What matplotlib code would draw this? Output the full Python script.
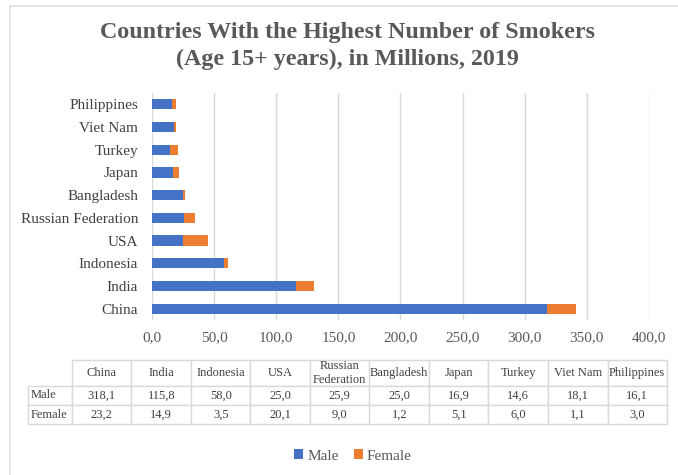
import matplotlib.pyplot as plt
from matplotlib.lines import Line2D

countries = ["China", "India", "Indonesia", "USA", "Russian Federation",
             "Bangladesh", "Japan", "Turkey", "Viet Nam", "Philippines"]
male = [318.1, 115.8, 58.0, 25.0, 25.9, 25.0, 16.9, 14.6, 18.1, 16.1]
female = [23.2, 14.9, 3.5, 20.1, 9.0, 1.2, 5.1, 6.0, 1.1, 3.0]
xticks = [0, 50, 100, 150, 200, 250, 300, 350, 400]

blue = "#4472C4"
orange = "#ED7D31"
txt = "#595959"
serif = ["Liberation Serif", "DejaVu Serif"]

plt.rcParams["font.family"] = serif

W, H = 678, 475
fig = plt.figure(figsize=(W / 100, H / 100), dpi=100)

# outer frame (left and top edges visible)
fig.add_artist(Line2D([10 / W, 10 / W], [0, 1 - 6 / H], color="#e0e0e0", lw=1.2))
fig.add_artist(Line2D([10 / W, 1], [1 - 6 / H, 1 - 6 / H], color="#e0e0e0", lw=1.2))

fig.text(347 / W, 1 - 46 / H,
         "Countries With the Highest Number of Smokers\n(Age 15+ years), in Millions, 2019",
         ha="center", va="center", fontsize=17.3, fontweight="bold", color=txt,
         linespacing=1.3)

ax = fig.add_axes([152 / W, 1 - 320 / H, 497 / W, 227 / H])
y = list(range(len(countries)))
ax.barh(y, male, height=0.45, color=blue, label="Male", zorder=3)
ax.barh(y, female, left=male, height=0.45, color=orange, label="Female", zorder=3)
ax.set_ylim(-0.5, len(countries) - 0.5)
ax.set_xlim(0, 400)
ax.set_yticks(y)
ax.set_yticklabels(countries, fontsize=11, color="#404040")
ax.set_xticks(xticks)
ax.set_xticklabels([f"{v:.1f}".replace(".", ",") for v in xticks], fontsize=11, color=txt)
ax.tick_params(length=0)
ax.tick_params(axis="x", pad=8)
ax.tick_params(axis="y", pad=10)
for s in ax.spines.values():
    s.set_visible(False)
ax.grid(axis="x", color="#d9d9d9", lw=1, zorder=0)

# data table (first column holds the row labels)
tax = fig.add_axes([0, 0, 1, 1])
tax.axis("off")
col_labels = [""] + [c.replace("Russian Federation", "Russian\nFederation") for c in countries]
cell_text = [["Male"] + [f"{v:.1f}".replace(".", ",") for v in male],
             ["Female"] + [f"{v:.1f}".replace(".", ",") for v in female]]
tbl = tax.table(cellText=cell_text, colLabels=col_labels,
                colWidths=[44 / W] + [59.5 / W] * len(countries),
                cellLoc="center",
                bbox=[28 / W, 1 - 424 / H, 639 / W, 64 / H])
tbl.auto_set_font_size(False)
for (r, c), cell in tbl.get_celld().items():
    cell.set_edgecolor("#d9d9d9")
    cell.set_linewidth(1)
    cell.get_text().set_fontsize(9)
    cell.get_text().set_color("#404040")
    cell.get_text().set_fontfamily(serif)
    if r == 0:
        cell.set_height(26 / H)
    else:
        cell.set_height(19 / H)
    if c == 0:
        cell.get_text().set_horizontalalignment("left")
        cell.PAD = 0.05
        if r == 0:
            cell.visible_edges = ""

fig.legend(loc="center", bbox_to_anchor=(353 / W, 1 - 456 / H), ncol=2, frameon=False,
           fontsize=11, handlelength=0.6, handleheight=0.6, handletextpad=0.25,
           columnspacing=1.0, labelcolor=txt)

fig.savefig("out.png", dpi=100)
